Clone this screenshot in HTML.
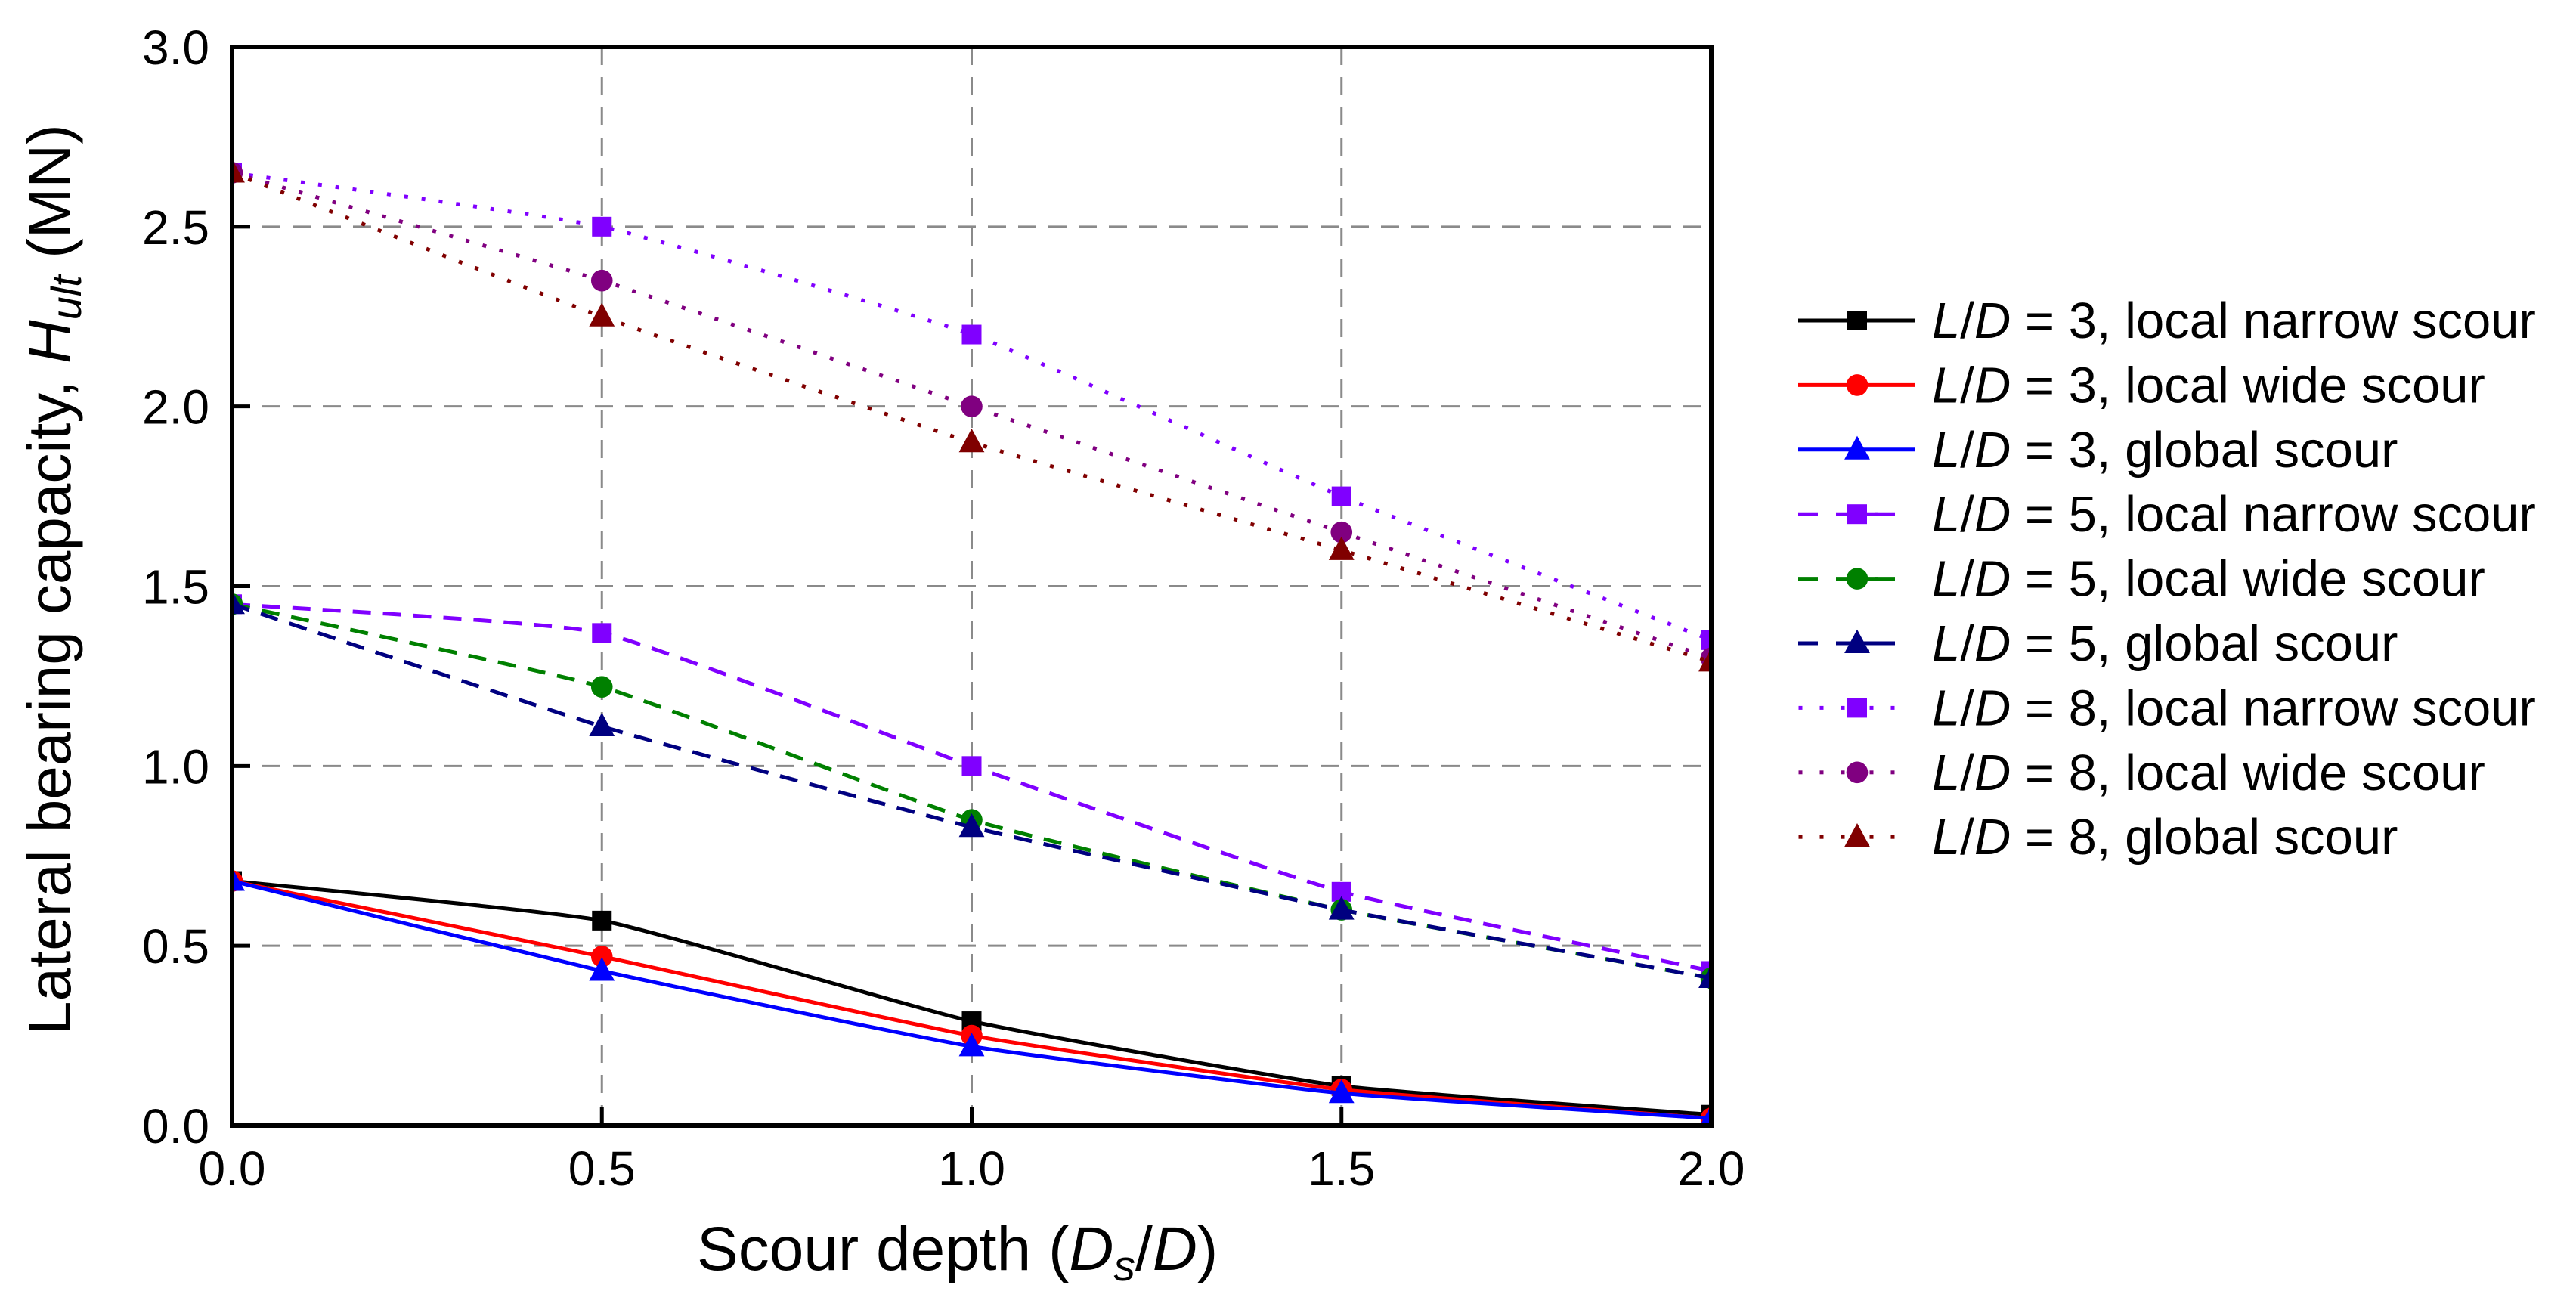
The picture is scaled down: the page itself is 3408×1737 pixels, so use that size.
<!DOCTYPE html>
<html><head><meta charset="utf-8">
<style>
html,body{margin:0;padding:0;background:#fff;}
svg{display:block;font-family:"Liberation Sans",Arial,sans-serif;}
</style></head>
<body>
<svg id="chart" width="3408" height="1737" viewBox="0 0 3408 1737" xmlns="http://www.w3.org/2000/svg">
<g id="grid"></g>
<g id="series"></g>
<g id="axes"></g>
<g id="legend"></g>
<text x="922" y="1680" font-size="82">Scour depth (<tspan font-style="italic">D</tspan><tspan font-style="italic" font-size="57" dy="14">s</tspan><tspan dy="-14">/</tspan><tspan font-style="italic">D</tspan>)</text>
<text transform="translate(93,1369) rotate(-90)" font-size="80">Lateral bearing capacity, <tspan font-style="italic">H</tspan><tspan font-style="italic" font-size="56" dy="14">ult</tspan><tspan dy="-14"> (MN)</tspan></text>
</svg>
<script>
const xCategories = [0, 0.5, 1.0, 1.5, 2.0];
const xTicks = ["0.0","0.5","1.0","1.5","2.0"];
const yTicks = ["0.0","0.5","1.0","1.5","2.0","2.5","3.0"];
const ld3Narrow = [0.68,0.57,0.29,0.11,0.03];
const ld3Wide = [0.68,0.47,0.25,0.10,0.02];
const ld3Global = [0.68,0.43,0.22,0.09,0.02];
const ld5Narrow = [1.45,1.37,1.00,0.65,0.43];
const ld5Wide = [1.45,1.22,0.85,0.60,0.41];
const ld5Global = [1.45,1.11,0.83,0.60,0.41];
const ld8Narrow = [2.65,2.50,2.20,1.75,1.35];
const ld8Wide = [2.65,2.35,2.00,1.65,1.30];
const ld8Global = [2.65,2.25,1.90,1.60,1.29];
const seriesLabels = ["3, local narrow scour","3, local wide scour","3, global scour","5, local narrow scour","5, local wide scour","5, global scour","8, local narrow scour","8, local wide scour","8, global scour"];

const NS="http://www.w3.org/2000/svg";
const L=307,R=2264,T=62,B=1489;
const xs=v=>L+(v-0)/(2-0)*(R-L);
const ys=v=>B-(v-0)/(3-0)*(B-T);
function mk(tag,attrs,parent){const e=document.createElementNS(NS,tag);for(const k in attrs)e.setAttribute(k,attrs[k]);parent.appendChild(e);return e;}
const grid=document.getElementById('grid'),axes=document.getElementById('axes'),ser=document.getElementById('series'),leg=document.getElementById('legend');

xTicks.forEach(t=>{const v=parseFloat(t);if(v>0&&v<2){const g=mk('line',{x1:xs(v),x2:xs(v),y1:T,y2:B,stroke:'#8a8a8a','stroke-width':3,'stroke-dasharray':'24 16'},grid);

}});
yTicks.forEach(t=>{const v=parseFloat(t);if(v>0&&v<3){const g=mk('line',{x1:L,x2:R,y1:ys(v),y2:ys(v),stroke:'#8a8a8a','stroke-width':3,'stroke-dasharray':'24 16'},grid);

}});

const defs=[
 {d:ld3Narrow,c:'#000000',m:'sq',dash:null},
 {d:ld3Wide,c:'#ff0000',m:'ci',dash:null},
 {d:ld3Global,c:'#0000ff',m:'tr',dash:null},
 {d:ld5Narrow,c:'#8000ff',m:'sq',dash:'24 16'},
 {d:ld5Wide,c:'#008000',m:'ci',dash:'24 16'},
 {d:ld5Global,c:'#000080',m:'tr',dash:'24 16'},
 {d:ld8Narrow,c:'#8000ff',m:'sq',dash:'5 18'},
 {d:ld8Wide,c:'#800080',m:'ci',dash:'5 18'},
 {d:ld8Global,c:'#800000',m:'tr',dash:'5 18'}
];
function spline(pts){let d=`M${pts[0][0]},${pts[0][1]}`;const t=0.07;
 for(let i=0;i<pts.length-1;i++){const p0=pts[Math.max(0,i-1)],p1=pts[i],p2=pts[i+1],p3=pts[Math.min(pts.length-1,i+2)];
 const c1=[p1[0]+(p2[0]-p0[0])*t,p1[1]+(p2[1]-p0[1])*t],c2=[p2[0]-(p3[0]-p1[0])*t,p2[1]-(p3[1]-p1[1])*t];
 d+=` C${c1[0]},${c1[1]} ${c2[0]},${c2[1]} ${p2[0]},${p2[1]}`;}return d;}
function marker(type,x,y,c,parent,s){
 if(type==='sq')return mk('rect',{x:x-s*0.5,y:y-s*0.5,width:s,height:s,fill:c},parent);
 if(type==='ci')return mk('circle',{cx:x,cy:y,r:s*0.55,fill:c},parent);
 return mk('polygon',{points:`${x},${y-s*0.7} ${x+s*0.65},${y+s*0.5} ${x-s*0.65},${y+s*0.5}`,fill:c},parent);}
const cp=mk('clipPath',{id:'clip'},ser);
mk('rect',{x:L,y:T,width:R-L,height:B-T},cp);
defs.forEach((s,si)=>{
 const g=mk('g',{'clip-path':'url(#clip)'},ser);
 
 
 const pts=s.d.map((v,i)=>[xs(xCategories[i]),ys(v)]);
 const p=mk('path',{d:spline(pts),fill:'none',stroke:s.c,'stroke-width':5},g);
 if(s.dash)p.setAttribute('stroke-dasharray',s.dash);
 
 
 pts.forEach(pt=>{const m=marker(s.m,pt[0],pt[1],s.c,g,26);
  
  });
});

const fr=mk('rect',{x:L,y:T,width:R-L,height:B-T,fill:'none',stroke:'#000','stroke-width':6},axes);


xTicks.forEach(t=>{const v=parseFloat(t),x=xs(v);
 const tk=mk('line',{x1:x,x2:x,y1:B,y2:B-24,stroke:'#000','stroke-width':5},axes);
 
 
 const tx=mk('text',{x:x,y:1568,'font-size':64,'text-anchor':'middle'},axes);tx.textContent=t;
 
 });
yTicks.forEach(t=>{const v=parseFloat(t),y=ys(v);
 const tk=mk('line',{x1:L,x2:L+24,y1:y,y2:y,stroke:'#000','stroke-width':5},axes);
 
 
 const tx=mk('text',{x:277,y:y+23,'font-size':64,'text-anchor':'end'},axes);tx.textContent=t;
 
 });

defs.forEach((s,i)=>{const y=424+i*85.4;
 const g=mk('g',{},leg);
 
 
 if(s.dash&&s.dash.startsWith('24')){mk('line',{x1:2379,x2:2405,y1:y,y2:y,stroke:s.c,'stroke-width':5},g);mk('line',{x1:2429,x2:2485,y1:y,y2:y,stroke:s.c,'stroke-width':5},g);mk('line',{x1:2481,x2:2507,y1:y,y2:y,stroke:s.c,'stroke-width':5},g);}
 else if(s.dash){[2382,2410,2438,2476,2504].forEach(x=>mk('rect',{x:x-2.5,y:y-2.5,width:5,height:5,fill:s.c},g));}
 else mk('line',{x1:2379,x2:2534,y1:y,y2:y,stroke:s.c,'stroke-width':5},g);
 marker(s.m,2457,y,s.c,g,26);
 const tx=mk('text',{x:2556,y:y+23,'font-size':67},g);
 tx.innerHTML='<tspan font-style="italic">L</tspan>/<tspan font-style="italic">D</tspan> = '+seriesLabels[i];
});
</script>
</body></html>
